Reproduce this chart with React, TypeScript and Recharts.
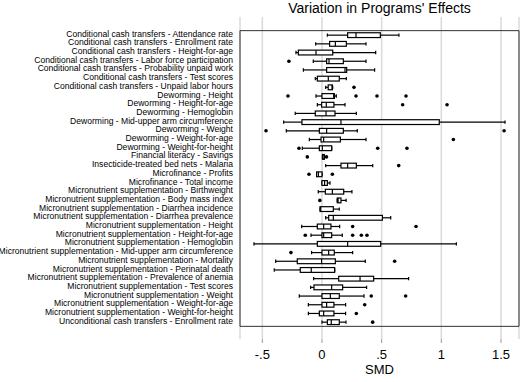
import React from 'react';
import { ComposedChart, Bar, XAxis, YAxis, CartesianGrid, ReferenceArea } from 'recharts';

const categories = [
  'Conditional cash transfers - Attendance rate',
  'Conditional cash transfers - Enrollment rate',
  'Conditional cash transfers - Height-for-age',
  'Conditional cash transfers - Labor force participation',
  'Conditional cash transfers - Probability unpaid work',
  'Conditional cash transfers - Test scores',
  'Conditional cash transfers - Unpaid labor hours',
  'Deworming - Height',
  'Deworming - Height-for-age',
  'Deworming - Hemoglobin',
  'Deworming - Mid-upper arm circumference',
  'Deworming - Weight',
  'Deworming - Weight-for-age',
  'Deworming - Weight-for-height',
  'Financial literacy - Savings',
  'Insecticide-treated bed nets - Malaria',
  'Microfinance - Profits',
  'Microfinance - Total income',
  'Micronutrient supplementation - Birthweight',
  'Micronutrient supplementation - Body mass index',
  'Micronutrient supplementation - Diarrhea incidence',
  'Micronutrient supplementation - Diarrhea prevalence',
  'Micronutrient supplementation - Height',
  'Micronutrient supplementation - Height-for-age',
  'Micronutrient supplementation - Hemoglobin',
  'Micronutrient supplementation - Mid-upper arm circumference',
  'Micronutrient supplementation - Mortality',
  'Micronutrient supplementation - Perinatal death',
  'Micronutrient supplementation - Prevalence of anemia',
  'Micronutrient supplementation - Test scores',
  'Micronutrient supplementation - Weight',
  'Micronutrient supplementation - Weight-for-age',
  'Micronutrient supplementation - Weight-for-height',
  'Unconditional cash transfers - Enrollment rate',
];

const whiskerLow = [
  0.045, -0.053, -0.218, -0.073, -0.156, -0.056, 0.031, -0.05, -0.039, -0.224,
  -0.321, -0.299, -0.106, -0.165, 0.004, 0.031, -0.045, 0.0, -0.031, 0.128,
  -0.016, 0.031, -0.17, -0.092, -0.57, -0.087, -0.388, -0.4, -0.07, -0.095,
  -0.19, -0.114, -0.114, 0.0,
];
const quartile1 = [
  0.215, 0.064, -0.198, 0.039, 0.039, -0.039, 0.052, 0.0, -0.003, -0.056,
  -0.168, -0.022, -0.008, -0.022, 0.004, 0.159, -0.045, 0.0, 0.028, 0.128,
  -0.016, 0.056, -0.039, 0.0, -0.039, 0.0, -0.207, -0.182, 0.14, -0.067,
  0.0, 0.0, -0.022, 0.045,
];
const medians = [
  0.285, 0.112, -0.05, 0.059, 0.193, 0.053, 0.085, 0.098, 0.036, 0.034,
  0.159, 0.039, 0.014, 0.003, 0.008, 0.215, -0.03, 0.022, 0.087, 0.135,
  -0.01, 0.095, 0.014, 0.014, 0.215, 0.056, -0.003, -0.09, 0.319, 0.081,
  0.07, 0.039, 0.014, 0.078,
];
const quartile3 = [
  0.489, 0.204, 0.09, 0.179, 0.207, 0.145, 0.087, 0.104, 0.1, 0.109,
  0.983, 0.179, 0.154, 0.081, 0.02, 0.288, 0.0, 0.045, 0.182, 0.159,
  0.095, 0.506, 0.075, 0.081, 0.492, 0.103, 0.112, 0.106, 0.433, 0.173,
  0.145, 0.1, 0.1, 0.145,
];
const whiskerHigh = [
  0.645, 0.369, 0.45, 0.369, 0.441, 0.204, 0.09, 0.12, 0.193, 0.288,
  1.534, 0.296, 0.369, 0.082, 0.021, 0.425, 0.001, 0.067, 0.251, 0.202,
  0.145, 0.576, 0.148, 0.17, 1.126, 0.257, 0.363, 0.107, 0.726, 0.374,
  0.352, 0.198, 0.198, 0.201,
];
const outliers: number[][] = [
  [], [], [], [-0.277], [], [], [0.268], [-0.285, 0.285, 0.461, 0.704], [0.676, 1.048], [],
  [], [-0.469, 1.526], [1.101], [-0.193, 0.467, 0.712], [-0.123, 0.038], [0.643], [-0.109, 0.087], [], [], [-0.018],
  [], [], [0.257, 0.788], [-0.14, 0.257, 0.33, 0.377], [], [-0.26], [0.609], [], [], [],
  [0.413, 0.701], [0.358], [0.288], [0.425],
];

const xTicks = [-0.5, 0, 0.5, 1, 1.5];
const xTickLabels = ['-.5', '0', '.5', '1', '1.5'];
const xDomain = [-0.687, 1.651];

const rows = categories.map((name, i) => ({
  name,
  range: [whiskerLow[i], whiskerHigh[i]],
  lo: whiskerLow[i],
  q1: quartile1[i],
  med: medians[i],
  q3: quartile3[i],
  hi: whiskerHigh[i],
  out: outliers[i],
}));

const FONT = '"Liberation Sans", Arial, Helvetica, sans-serif';

const BoxShape = (props: any) => {
  const { x, y, width, height, payload } = props;
  if (!payload) return null;
  const { lo, q1, med, q3, hi, out } = payload;
  const k = width / (hi - lo);
  const px = (v: number) => x + (v - lo) * k;
  const cy = y + height / 2;
  const bh = 2.4;
  const ch = 1.7;
  const sw = 1.2;
  return (
    <g>
      <line x1={px(lo)} x2={px(q1)} y1={cy} y2={cy} stroke="#000" strokeWidth={sw} />
      <line x1={px(q3)} x2={px(hi)} y1={cy} y2={cy} stroke="#000" strokeWidth={sw} />
      <line x1={px(lo)} x2={px(lo)} y1={cy - ch} y2={cy + ch} stroke="#000" strokeWidth={sw} />
      <line x1={px(hi)} x2={px(hi)} y1={cy - ch} y2={cy + ch} stroke="#000" strokeWidth={sw} />
      <rect x={px(q1)} y={cy - bh} width={Math.max(px(q3) - px(q1), 0.5)} height={bh * 2} fill="#fff" stroke="#000" strokeWidth={sw} />
      <line x1={px(med)} x2={px(med)} y1={cy - bh} y2={cy + bh} stroke="#000" strokeWidth={sw} />
      {out.map((o: number, j: number) => (
        <circle key={j} cx={px(o)} cy={cy} r={1.8} fill="#000" />
      ))}
    </g>
  );
};

const YTick = (props: any) => {
  const { x, y, payload } = props;
  return (
    <g transform={`translate(${x},${y + 1.7}) scale(0.923,1)`}>
      <text x={0} y={0} textAnchor="end" fontSize={9.3} fontFamily={FONT} fill="#000">
        {payload.value}
      </text>
    </g>
  );
};

export default function App() {
  return (
    <div style={{ position: 'absolute', left: 0, top: 0, width: 520, height: 382, background: '#fff' }}>
      <div
        style={{
          position: 'absolute', left: 240, width: 279, top: 0.8, textAlign: 'center',
          fontFamily: FONT, fontSize: 14, lineHeight: '14px', color: '#000', whiteSpace: 'nowrap',
        }}
      >
        Variation in Programs' Effects
      </div>
      <ComposedChart
        width={520}
        height={382}
        data={rows}
        layout="vertical"
        margin={{ top: 17, right: 1, bottom: 0, left: 0 }}
        barCategoryGap={0}
      >
        <CartesianGrid horizontal={false} stroke="#dcdcdc" strokeWidth={1.6} />
        <XAxis
          type="number"
          domain={xDomain}
          allowDataOverflow
          ticks={xTicks}
          tickFormatter={(v: number) => xTickLabels[xTicks.indexOf(v)] ?? String(v)}
          axisLine={false}
          tickLine={{ stroke: '#999' }}
          tickSize={4}
          tickMargin={6.5}
          height={43}
          tick={{ fontSize: 13, fill: '#000', fontFamily: FONT }}
        />
        <YAxis
          type="category"
          dataKey="name"
          width={240}
          interval={0}
          tickLine={false}
          axisLine={false}
          tickSize={0}
          tickMargin={7}
          padding={{ top: 13.65, bottom: 12.65 }}
          tick={<YTick />}
        />
        <ReferenceArea x1={xDomain[0]} x2={xDomain[1]} fill="none" stroke="#333" strokeWidth={1} ifOverflow="visible" />
        <Bar dataKey="range" shape={<BoxShape />} isAnimationActive={false} />
      </ComposedChart>
      <div
        style={{
          position: 'absolute', left: 240, width: 279, top: 363.3, textAlign: 'center',
          fontFamily: FONT, fontSize: 13, lineHeight: '13px', color: '#000',
        }}
      >
        SMD
      </div>
    </div>
  );
}
